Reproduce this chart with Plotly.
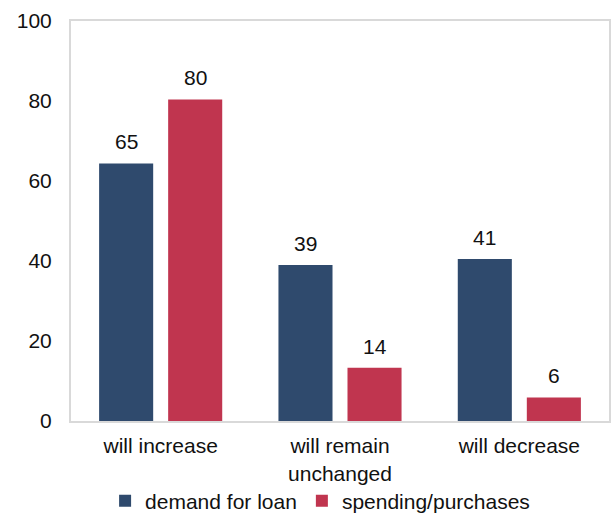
import plotly.graph_objects as go

categories = ["will increase", "will remain<br>unchanged", "will decrease"]
demand_for_loan = [64.4, 39.0, 40.5]
spending_purchases = [80.4, 13.3, 5.9]
demand_labels = ["65", "39", "41"]
spending_labels = ["80", "14", "6"]
series_names = ["demand for loan", "spending/purchases"]
y_ticks = [0, 20, 40, 60, 80, 100]

navy = "#2F4A6D"
crimson = "#C0354F"
font_family = "Liberation Sans, Arial, sans-serif"
fs = 21

fig = go.Figure()
fig.add_trace(go.Bar(x=categories, y=demand_for_loan, name=series_names[0],
                     marker=dict(color=navy, line=dict(width=0))))
fig.add_trace(go.Bar(x=categories, y=spending_purchases, name=series_names[1],
                     marker=dict(color=crimson, line=dict(width=0))))

# value labels above bars
for vals, labs, shift in [(demand_for_loan, demand_labels, -34.5),
                          (spending_purchases, spending_labels, 34.5)]:
    for c, v, t in zip(categories, vals, labs):
        fig.add_annotation(x=c, y=v, text=t, showarrow=False, xshift=shift,
                           yshift=8, yanchor="bottom",
                           font=dict(size=fs, color="#111111", family=font_family))

fig.update_layout(
    width=613, height=513,
    margin=dict(l=71, r=4, t=21, b=92, autoexpand=False),
    paper_bgcolor="white", plot_bgcolor="white",
    barmode="group", bargap=0.23, bargroupgap=0.217,
    font=dict(family=font_family, size=fs, color="#111111"),
    showlegend=True,
    legend=dict(orientation="h", x=0.463, xanchor="center", y=-0.2, yanchor="middle",
                font=dict(size=fs), itemwidth=30, traceorder="normal",
                bgcolor="rgba(0,0,0,0)", itemclick=False),
)
fig.update_yaxes(range=[0, 100], tickvals=y_ticks, showgrid=False, zeroline=False,
                 showline=True, mirror=True, linecolor="#D9D9D9", linewidth=2,
                 ticks="", ticklabelstandoff=13, tickfont=dict(size=fs))
fig.update_xaxes(showgrid=False, showline=True, mirror=True, linecolor="#D9D9D9",
                 linewidth=2, ticks="", ticklabelstandoff=5, tickfont=dict(size=fs))

fig.write_html("out.html")
